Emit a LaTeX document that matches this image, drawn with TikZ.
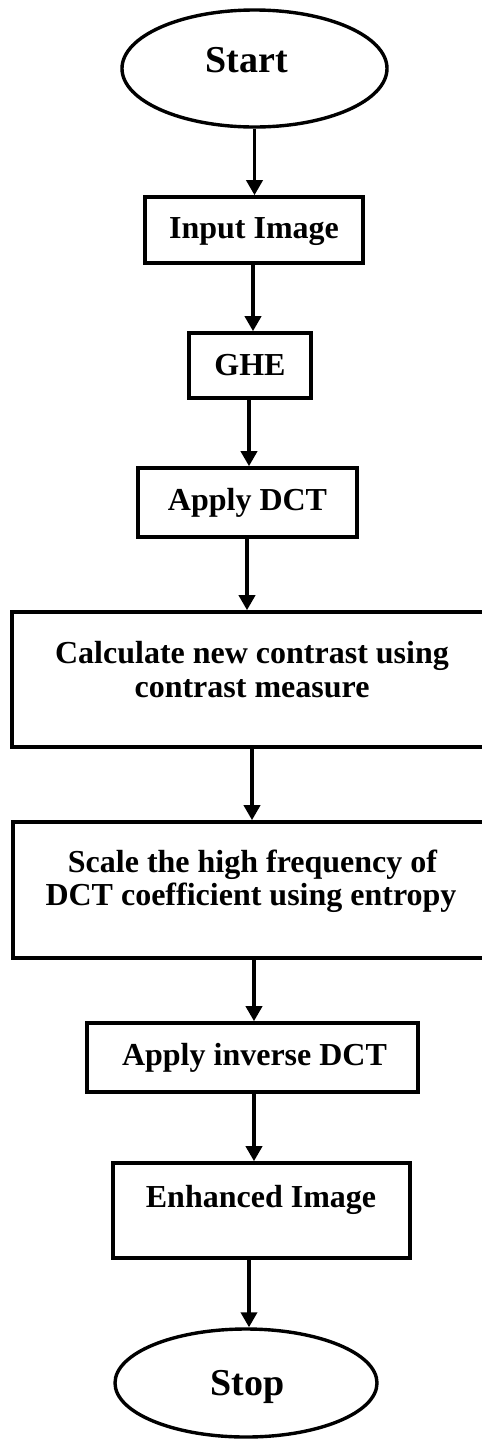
\documentclass[tikz,border=0pt]{standalone}
\usepackage{fontspec}
\setmainfont{Liberation Serif}
\usetikzlibrary{arrows.meta,shapes.geometric}
\begin{document}
\begin{tikzpicture}[x=1pt,y=-1pt,
  box/.style={draw,line width=3.6pt,rectangle,inner sep=0pt},
  oval/.style={draw,line width=3.4pt,ellipse,inner sep=0pt},
  lbl/.style={font=\fontsize{32}{34}\selectfont\bfseries,anchor=base,inner sep=0pt},
  big/.style={font=\fontsize{38}{40}\selectfont\bfseries,anchor=base,inner sep=0pt},
  arr/.style={line width=3.6pt,-{Triangle[width=16pt,length=15pt]}}]
\useasboundingbox (0,0) rectangle (482,1441);
% shapes
\node[oval,minimum width=265pt,minimum height=117pt] (start) at (254.5,68.5) {};
\node[box,minimum width=218pt,minimum height=66pt] (input) at (254,230) {};
\node[box,minimum width=122pt,minimum height=65pt] (ghe) at (250,365.5) {};
\node[box,minimum width=219pt,minimum height=69pt] (dct) at (247.5,502.5) {};
\node[box,minimum width=483pt,minimum height=135pt] (calc) at (253.5,679.5) {};
\node[box,minimum width=482pt,minimum height=136pt] (scale) at (254,890) {};
\node[box,minimum width=331pt,minimum height=69pt] (inv) at (252.5,1057.5) {};
\node[box,minimum width=297pt,minimum height=95pt] (enh) at (261.5,1210.5) {};
\node[oval,minimum width=262pt,minimum height=108pt] (stop) at (246,1383) {};
% texts
\node[big] (startT) at (247,72) {Start};
\node[lbl] (inputT) at (254,238) {Input Image};
\node[lbl] (gheT) at (250,375) {GHE};
\node[lbl] (dctT) at (247.5,510) {Apply DCT};
\node[lbl] (calcA) at (252,663) {Calculate new contrast using};
\node[lbl] (calcB) at (252,697) {contrast measure};
\node[lbl] (scaleA) at (252.5,872) {Scale the high frequency of};
\node[lbl] (scaleB) at (251,905) {DCT coefficient using entropy};
\node[lbl] (invT) at (254.5,1065) {Apply inverse DCT};
\node[lbl] (enhT) at (261,1207) {Enhanced Image};
\node[big] (stopT) at (247.5,1395) {Stop};
% connectors
\draw[arr] (start.south) -- (start.south |- input.north);
\draw[arr] ([xshift=-1pt]input.south) -- ([xshift=-1pt]input.south |- ghe.north);
\draw[arr] ([xshift=-1pt]ghe.south) -- ([xshift=-1pt]ghe.south |- dct.north);
\draw[arr] ([xshift=-0.5pt]dct.south) -- ([xshift=-0.5pt]dct.south |- calc.north);
\draw[arr] ([xshift=-1.5pt]calc.south) -- ([xshift=-1.5pt]calc.south |- scale.north);
\draw[arr] (scale.south) -- (scale.south |- inv.north);
\draw[arr] ([xshift=1.5pt]inv.south) -- ([xshift=1.5pt]inv.south |- enh.north);
\draw[arr] ([xshift=-12.5pt]enh.south) -- ([xshift=-12.5pt]enh.south |- stop.north);
\end{tikzpicture}
\end{document}
